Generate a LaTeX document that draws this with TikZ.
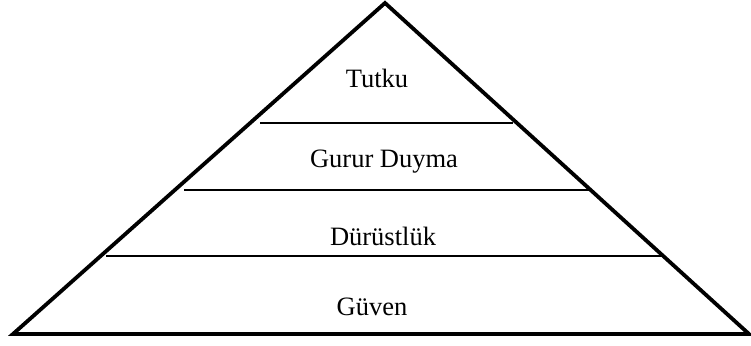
\documentclass[tikz,border=0pt]{standalone}
\usepackage{fontspec}
\setmainfont{Liberation Serif}
\begin{document}
\begin{tikzpicture}[x=1pt,y=-1pt,
  outline/.style={line width=3.8pt,line join=miter},
  divider/.style={line width=1.9pt},
  lbl/.style={font=\fontsize{26.5}{30}\selectfont,inner sep=0pt,anchor=center}]
\useasboundingbox (0,0) rectangle (751,345);
\coordinate (apex) at (385,3);
\coordinate (bl) at (13,334);
\coordinate (br) at (749,334);
\draw[outline] (apex) -- (br) -- (bl) -- cycle;
\coordinate (a1) at (260,123);
\coordinate (b1) at (513,123);
\coordinate (a2) at (184,190);
\coordinate (b2) at (589,190);
\coordinate (a3) at (106,256);
\coordinate (b3) at (664,256);
\draw[divider] (a1) -- (b1);
\draw[divider] (a2) -- (b2);
\draw[divider] (a3) -- (b3);
\node[lbl] (t1) at (377,78) {Tutku};
\node[lbl] (t2) at (384,162) {Gurur Duyma};
\node[lbl] (t3) at (383,236) {Dürüstlük};
\node[lbl] (t4) at (372,307) {Güven};
\end{tikzpicture}
\end{document}
